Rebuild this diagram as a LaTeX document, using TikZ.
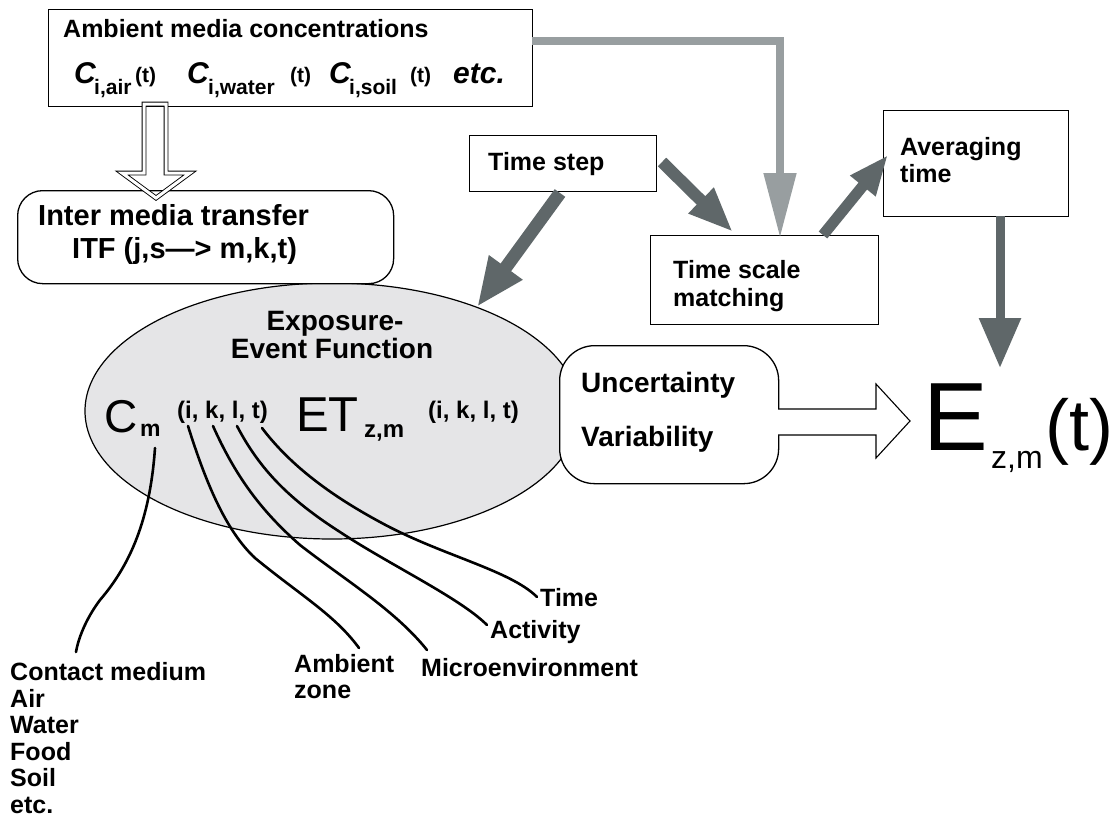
\documentclass[tikz,border=0pt]{standalone}
\usepackage{fontspec}
\setmainfont{Liberation Sans}
\usetikzlibrary{arrows.meta,shapes.geometric}
\definecolor{darkarr}{RGB}{95,103,105}
\definecolor{lightarr}{RGB}{152,158,160}
\definecolor{ellfill}{RGB}{229,229,231}
\newcommand\myfs[1]{\fontsize{#1}{#1}\selectfont}
\begin{document}
\begin{tikzpicture}[x=1pt,y=-1pt,
  box/.style={draw, line width=1.3pt, fill=white, inner sep=0, anchor=north west},
  txt/.style={anchor=base west, inner sep=0},
  lbl/.style={txt, font=\bfseries\myfs{25}},
  darklink/.style={draw=darkarr, line join=miter},
  hollow/.style={draw, fill=white, line width=1.1pt, line join=miter},
  curve/.style={line width=2.6pt, line cap=round}]
\useasboundingbox (0,0) rectangle (1118,819);

% exposure-event ellipse
\node[ellipse, draw, line width=1.2pt, fill=ellfill, minimum width=494pt, minimum height=256pt, inner sep=0] (etf) at (332,411) {};

% boxes
\node[box, minimum width=484pt, minimum height=97pt] (amb) at (48,9) {};
\node[box, rounded corners=25pt, minimum width=376pt, minimum height=93pt] (itf) at (17,190) {};
\node[box, minimum width=187pt, minimum height=56pt] (tstep) at (469,135) {};
\node[box, minimum width=228pt, minimum height=89pt] (tsm) at (650,235) {};
\node[box, minimum width=185pt, minimum height=106pt] (avg) at (883,110) {};
\node[box, rounded corners=35pt, minimum width=219pt, minimum height=138pt] (uv) at (559,345) {};

% texts in top box
\node[lbl] (ambt) at (63,37) {Ambient media concentrations};
\node[txt, font=\bfseries\itshape\myfs{30}] (c1) at (74,83) {C};
\node[txt, font=\bfseries\myfs{21}] (c1s) at (94,94) {i,air};
\node[txt, font=\bfseries\myfs{21}] (c1t) at (135,82) {(t)};
\node[txt, font=\bfseries\itshape\myfs{30}] (c2) at (187,83) {C};
\node[txt, font=\bfseries\myfs{21}] (c2s) at (208,94) {i,water};
\node[txt, font=\bfseries\myfs{21}] (c2t) at (290,82) {(t)};
\node[txt, font=\bfseries\itshape\myfs{30}] (c3) at (329,83) {C};
\node[txt, font=\bfseries\myfs{21}] (c3s) at (349,94) {i,soil};
\node[txt, font=\bfseries\myfs{21}] (c3t) at (410,82) {(t)};
\node[txt, font=\bfseries\itshape\myfs{30}] (etc1) at (453,83) {etc.};

% inter media transfer
\node[txt, font=\bfseries\myfs{29}] (itf1) at (38,225) {Inter media transfer};
\node[txt, font=\bfseries\myfs{29}] (itf2) at (72,258) {ITF (j,s—> m,k,t)};

% box labels
\node[lbl] (tstept) at (488,170) {Time step};
\node[lbl] (tsm1) at (673,278) {Time scale};
\node[lbl] (tsm2) at (673,306) {matching};
\node[lbl] (avg1) at (900,155) {Averaging};
\node[lbl] (avg2) at (900,182) {time};
\node[txt, font=\bfseries\myfs{28}] (uv1) at (581,392) {Uncertainty};
\node[txt, font=\bfseries\myfs{28}] (uv2) at (581,446) {Variability};

% ellipse texts
\node[anchor=base, inner sep=0, font=\bfseries\myfs{28}] (ex1) at (335,330) {Exposure-};
\node[anchor=base, inner sep=0, font=\bfseries\myfs{28}] (ex2) at (332,358) {Event Function};
\node[txt, font=\myfs{46}] (cm) at (104,432) {C};
\node[txt, font=\bfseries\myfs{23}] (cms) at (140,436) {m};
\node[txt, font=\bfseries\myfs{24}] (args1) at (177,418) {(i, k, l, t)};
\node[txt, font=\myfs{49}] (et) at (296,431) {ET};
\node[txt, font=\bfseries\myfs{24}] (ets) at (364,437) {z,m};
\node[txt, font=\bfseries\myfs{24}] (args2) at (428,418) {(i, k, l, t)};

% result
\node[txt, font=\myfs{97}] (E) at (923,450) {E};
\node[txt, font=\myfs{32}] (Es) at (991,468) {z,m};
\node[txt, font=\myfs{72}] (Et) at (1045,450) {(t)};

% bottom labels
\node[lbl] (ltime) at (540,606) {Time};
\node[lbl] (lact) at (490,638) {Activity};
\node[lbl] (lmic) at (421,676) {Microenvironment};
\node[lbl] (lamb1) at (294,672) {Ambient};
\node[lbl] (lamb2) at (294,698) {zone};
\node[lbl] (lcm1) at (10,680) {Contact medium};
\node[lbl] (lcm2) at (10,707) {Air};
\node[lbl] (lcm3) at (10,733.5) {Water};
\node[lbl] (lcm4) at (10,760) {Food};
\node[lbl] (lcm5) at (10,786.5) {Soil};
\node[lbl] (lcm6) at (10,813) {etc.};

% curves
\coordinate (k0) at (155,448); \coordinate (k0e) at (76,652);
\coordinate (k1) at (188,426); \coordinate (k1e) at (359,648);
\coordinate (k2) at (213,426); \coordinate (k2e) at (427,650);
\coordinate (k3) at (237,426); \coordinate (k3e) at (487,625);
\coordinate (k4) at (262,428); \coordinate (k4e) at (537,597);
\draw[curve] (k0) .. controls (150,520) and (130,565) .. (100,600) .. controls (85,620) and (78,640) .. (k0e);
\draw[curve] (k1) .. controls (205,480) and (225,530) .. (255,558) .. controls (300,595) and (335,615) .. (k1e);
\draw[curve] (k2) .. controls (235,475) and (260,510) .. (300,545) .. controls (345,580) and (395,610) .. (k2e);
\draw[curve] (k3) .. controls (260,470) and (290,500) .. (340,532) .. controls (390,565) and (460,598) .. (k3e);
\draw[curve] (k4) .. controls (290,465) and (330,495) .. (380,522) .. controls (440,555) and (510,570) .. (k4e);

% light gray arrow from ambient box to time scale matching
\coordinate (ga) at (532,41);
\coordinate (gb) at (780,238);
\draw[draw=lightarr, line width=8pt, line join=miter, -{Triangle[length=65pt,width=31pt]}] (ga) -| (gb);

% dark arrows
\coordinate (da1) at (560,193); \coordinate (db1) at (477,307);
\draw[darklink, line width=13pt, -{Triangle[length=49pt,width=38pt]}] (da1) -- (db1);
\coordinate (da2) at (662,162); \coordinate (db2) at (733,232);
\draw[darklink, line width=12pt, -{Triangle[length=45pt,width=33pt]}] (da2) -- (db2);
\coordinate (da3) at (823,235); \coordinate (db3) at (888,155);
\draw[darklink, line width=11pt, -{Triangle[length=40pt,width=30pt]}] (da3) -- (db3);
\coordinate (da4) at (1000,216); \coordinate (db4) at (1000,368);
\draw[darklink, line width=9pt, -{Triangle[length=50pt,width=40pt]}] (da4) -- (db4);

% hollow arrow down (double outline)
\coordinate (ha) at (155,104);
\draw[draw=black, double=white, double distance=3pt, line width=0.9pt, line join=miter]
  (ha) ++(-11,0) -- ++(0,69) -- ++(-22,0) -- (156,198) -- (190,173) -- ++(-24,0) -- ++(0,-69) -- cycle;

% hollow arrow right
\coordinate (hr) at (778,422);
\draw[hollow] (hr) ++(0,-13) -- (876,409) -- (876,384) -- (910,421) -- (876,458) -- (876,435) -- (778,435);
\end{tikzpicture}
\end{document}
